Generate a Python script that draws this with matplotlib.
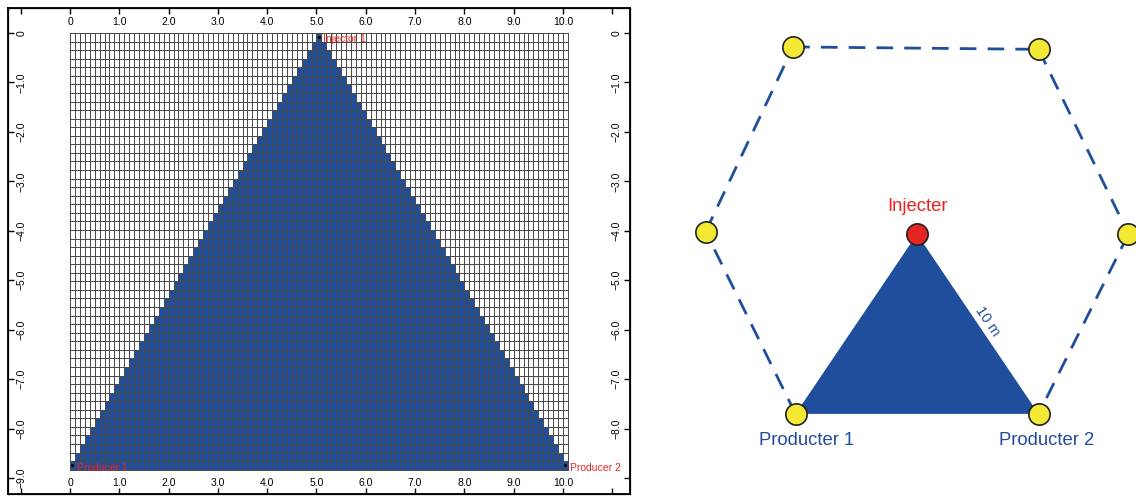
import numpy as np
import matplotlib.pyplot as plt
from matplotlib.colors import ListedColormap

plt.rcParams['font.family'] = ['Liberation Sans', 'DejaVu Sans']

# ---- grid model: 101 columns of 0.1 m, 51 rows of sqrt(3)/10 m ----
n_cols = 101
n_rows = 51
dx = 0.1
dy = np.sqrt(3) / 10
apex_col = 50

# wells placed on grid cells (column, row)
grid_well_names = ['Injector 1', 'Producer 1', 'Producer 2']
grid_well_cols = [50, 0, 100]
grid_well_rows = [0, 50, 50]

x_ticks = list(range(-1, 12))
x_labels = [''] + ['0'] + ['%d.0' % v for v in range(1, 11)] + ['']
y_ticks = list(range(0, -10, -1))
y_labels_left = ['0'] + ['\u2212%d.0' % v for v in range(1, 10)]
y_labels_right = y_labels_left[:-1] + ['']

# ---- schematic: ring of wells around the injector (metres) ----
ring_x = [-5.1, 5.0, 8.7, 5.0, -5.0, -8.7]      # TL, TR, MR, P2, P1, ML
ring_y = [7.7, 7.6, 0.0, -7.4, -7.4, 0.1]
inj_x, inj_y = 0.0, 0.0
dashed_edges = [(0, 1), (1, 2), (2, 3), (4, 5), (5, 0)]
p1, p2 = 4, 3

blue = '#1f4e9c'
red = '#ee2222'

fig = plt.figure(figsize=(11.36, 4.97), dpi=100)

# ---------------- left: swept cells on the grid ----------------
ax = fig.add_axes([8 / 1136, 3 / 497, 622 / 1136, 486 / 497])
ax.set_xlim(-1.258, 11.36)
ax.set_ylim(-9.324, 0.506)

x_edges = np.arange(n_cols + 1) * dx
y_edges = -np.arange(n_rows + 1) * dy
cols, rows = np.meshgrid(np.arange(n_cols), np.arange(n_rows))
swept = (np.abs(cols - apex_col) <= rows).astype(float)
ax.pcolormesh(x_edges, y_edges, swept, cmap=ListedColormap(['white', blue]),
              edgecolors='#4a4a4a', linewidth=0.4, shading='flat')

wx = (np.array(grid_well_cols) + 0.5) * dx
wy = -(np.array(grid_well_rows) + 0.5) * dy
ax.plot(wx, wy, 'k.', ms=2.5)
for name, x, y in zip(grid_well_names, wx, wy):
    ax.annotate(name, (x, y), xytext=(3, -1.5), textcoords='offset points',
                color=red, fontsize=7.5, va='center', ha='left')

for sp in ax.spines.values():
    sp.set_linewidth(1.3)

tick_fs = 7.5
ax.tick_params(axis='x', direction='in', length=4.5, width=1, pad=-8)
ax.tick_params(axis='y', direction='in', length=4.5, width=1, pad=-9.5)
ax.set_xticks(x_ticks, x_labels, fontsize=tick_fs, va='center')
ax.set_yticks(y_ticks, y_labels_left, fontsize=tick_fs, rotation=90,
              va='center', ha='center')

ax_top = ax.twiny()
ax_top.set_xlim(ax.get_xlim())
ax_top.tick_params(axis='x', direction='in', length=4.5, width=1, pad=-10)
ax_top.set_xticks(x_ticks, x_labels, fontsize=tick_fs, va='center')

ax_right = ax.twinx()
ax_right.set_ylim(ax.get_ylim())
ax_right.tick_params(axis='y', direction='in', length=4.5, width=1, pad=-9.5)
ax_right.set_yticks(y_ticks, y_labels_right, fontsize=tick_fs, rotation=90,
                    va='center', ha='center')

# ---------------- right: well pattern schematic ----------------
ad = fig.add_axes([650 / 1136, 0, 486 / 1136, 1])
ad.set_xlim(-10.99, 9.01)
ad.set_ylim(-10.82, 9.63)
ad.axis('off')

ad.fill([inj_x, ring_x[p1], ring_x[p2]], [inj_y, ring_y[p1], ring_y[p2]],
        color=blue, lw=0, zorder=1)
for i, j in dashed_edges:
    ad.plot([ring_x[i], ring_x[j]], [ring_y[i], ring_y[j]], color=blue,
            lw=2, dashes=(6, 4), zorder=2)
ad.scatter(ring_x, ring_y, s=235, color='#f3e834', edgecolors='#222222',
           linewidths=1.2, zorder=3)
ad.scatter([inj_x], [inj_y], s=235, color='#e32420', edgecolors='#222222',
           linewidths=1.2, zorder=3)

ad.annotate('Injecter', (inj_x, inj_y), xytext=(0, 19.5), textcoords='offset points',
            color=red, fontsize=13.3, ha='center', va='center')
ad.annotate('Producter 1', (ring_x[p1], ring_y[p1]), xytext=(8, -19.5),
            textcoords='offset points', color=blue, fontsize=13.3,
            ha='center', va='center')
ad.annotate('Producter 2', (ring_x[p2], ring_y[p2]), xytext=(6, -19.5),
            textcoords='offset points', color=blue, fontsize=13.3,
            ha='center', va='center')

angle = np.degrees(np.arctan2(ring_y[p2] - inj_y, ring_x[p2] - inj_x))
ad.text(2.9, -3.6, '10 m', color=blue, fontsize=10.5, rotation=angle,
        rotation_mode='anchor', ha='center', va='center')

fig.savefig('out.png', dpi=100)
